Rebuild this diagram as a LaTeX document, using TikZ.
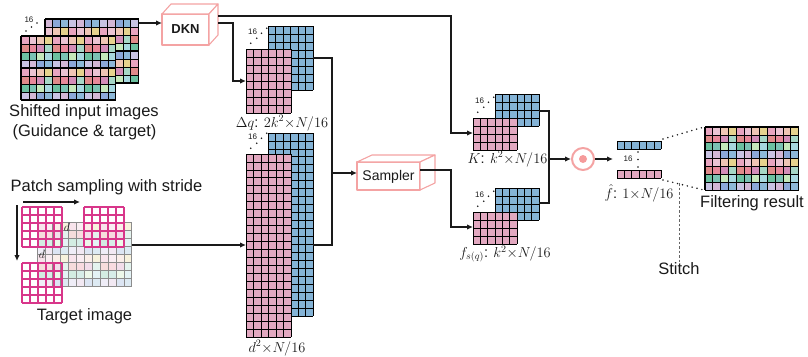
\documentclass[tikz,border=0pt]{standalone}
\usepackage[no-math]{fontspec}
\setmainfont{Liberation Sans}
\usetikzlibrary{arrows.meta}
\definecolor{p00}{HTML}{E8A5C0}\definecolor{p01}{HTML}{EBC4D3}\definecolor{p02}{HTML}{EFC6B5}\definecolor{p03}{HTML}{E6D38E}
\definecolor{p10}{HTML}{E08A8A}\definecolor{p11}{HTML}{E8889A}\definecolor{p12}{HTML}{D38DB8}\definecolor{p13}{HTML}{A6D7C6}
\definecolor{p20}{HTML}{6CC0A0}\definecolor{p21}{HTML}{7BC2B3}\definecolor{p22}{HTML}{C5E8BB}\definecolor{p23}{HTML}{A7D8DF}
\definecolor{p30}{HTML}{C9C3E3}\definecolor{p31}{HTML}{D3B7D6}\definecolor{p32}{HTML}{8CA8D8}\definecolor{p33}{HTML}{8DB8D8}
\definecolor{fpink}{HTML}{E2A8C0}
\definecolor{fblue}{HTML}{84B3D6}
\definecolor{boxred}{HTML}{F4A3A3}
\definecolor{magen}{HTML}{D8368A}
\definecolor{txt}{HTML}{1A1A1A}
\newcommand\patgrid[7]{%
  \foreach \r in {0,...,7}{\foreach \c in {0,...,11}{%
    \pgfmathtruncatemacro\pr{mod(\r+#5,4)}\pgfmathtruncatemacro\pc{mod(\c+#6,4)}%
    \fill[p\pr\pc, opacity=#7] ({#1+\c*#3},{#2+\r*#4}) rectangle ++(#3,#4);}}}
\newcommand\gridlines[7]{%
  \foreach \c in {0,...,#3}{\draw[#7] ({#1+\c*#5},#2) -- ++(0,{#4*#6});}%
  \foreach \r in {0,...,#4}{\draw[#7] (#1,{#2+\r*#6}) -- ++({#3*#5},0);}}
\newcommand\fgrid[7]{%
  \fill[#7] (#1,#2) rectangle ++({#3*#5},{#4*#6});
  \gridlines{#1}{#2}{#3}{#4}{#5}{#6}{gline}}
\newcommand\blockgrid[4]{% x0 y0 cw ch : thick lines every 4 cells
  \foreach \c in {0,4,8,12}{\draw[bline] ({#1+\c*#3},#2) -- ++(0,{8*#4});}%
  \foreach \r in {0,4,8}{\draw[bline] (#1,{#2+\r*#4}) -- ++({12*#3},0);}}
\newcommand\sixteen[2]{% pink top-left corner
  \foreach \d/\e in {4.7/-5.7,10.7/-10.7,15.5/-15.7,20.7/-20.7}{\fill[txt] ({#1+\d},{#2+\e}) circle (0.9);}
  \node[small] at ({#1+6.5},{#2-17.5}) {16};}
\tikzset{
  gline/.style={line width=0.8pt, black},
  bline/.style={line width=1.3pt, black},
  conn/.style={line width=1.2pt, txt},
  arr/.style={conn, -{Latex[length=6pt,width=5.5pt]}},
  lbl/.style={font=\fontsize{16.5}{19}\selectfont, text=txt, inner sep=0pt},
  mlbl/.style={font=\fontsize{14.5}{16}\selectfont, text=txt, inner sep=0pt},
  small/.style={font=\fontsize{8}{9}\selectfont, text=txt, inner sep=0pt},
  box3d/.style={draw=boxred, line width=1.1pt, fill=white, line join=round},
  dotl/.style={line width=1.7pt, txt, dash pattern=on 0pt off 5pt, line cap=round},
}
\begin{document}
\begin{tikzpicture}[x=1pt,y=-1pt]
\useasboundingbox (0,0) rectangle (808,356);

% ---------- shifted input images ----------
\patgrid{45}{19}{7.8}{8}{3}{1}{1}
\gridlines{45}{19}{12}{8}{7.8}{8}{gline}
\blockgrid{45}{19}{7.8}{8}
\patgrid{21}{36}{7.9}{8}{0}{0}{1}
\gridlines{21}{36}{12}{8}{7.9}{8}{gline}
\blockgrid{21}{36}{7.9}{8}
\foreach \d/\e in {26/31,31.5/27,37/23}{\fill[txt] (\d,\e) circle (0.9);}
\node[small] at (29,20) {16};
\coordinate (inR) at (138.6,23);
\node[lbl] (inlab1) at (84,112) {Shifted input images};
\node[lbl] (inlab2) at (84.5,132) {(Guidance \& target)};

% ---------- DKN box ----------
\draw[box3d] (162,14) rectangle (209,45);
\draw[box3d] (162,14) -- (171,4) -- (218,4) -- (209,14) -- cycle;
\draw[box3d] (209,14) -- (218,4) -- (218,35) -- (209,45) -- cycle;
\node[font=\fontsize{13}{15}\selectfont\bfseries, text=txt] (dkn) at (185.5,29.5) {DKN};
\coordinate (dknIn) at (162,23);
\coordinate (dknO1) at (218,16);
\coordinate (dknO2) at (218,23);

% ---------- target image ----------
\patgrid{37}{222}{7.9}{8.1}{0}{0}{0.3}
\gridlines{37}{222}{12}{8}{7.9}{8.1}{line width=0.7pt, black!45}
\gridlines{22}{207}{5}{5}{8}{8}{line width=1.1pt, magen}
\gridlines{84}{207}{5}{5}{8}{8}{line width=1.1pt, magen}
\gridlines{22}{263}{5}{5}{8}{8}{line width=1.1pt, magen}
\node[font=\fontsize{12}{14}\selectfont, text=txt, inner sep=0pt] at (67,227) {$d$};
\node[font=\fontsize{12}{14}\selectfont, text=txt, inner sep=0pt] at (42,254) {$d$};
\coordinate (hs) at (23,202); \coordinate (he) at (80,202);
\coordinate (vs) at (17,205); \coordinate (ve) at (17,261);
\draw[arr] (hs) -- (he);
\draw[arr] (vs) -- (ve);
\node[lbl] (patchlab) at (106.5,187) {Patch sampling with stride};
\node[lbl] (tlab) at (84.5,316) {Target image};
\coordinate (tgtR) at (131.8,245);

% ---------- Delta q ----------
\fgrid{268}{26}{6}{8}{7.5}{8}{fblue}
\fgrid{246}{49}{6}{8}{7.5}{8}{fpink}
\sixteen{246}{49}
\node[mlbl] (dqlab) at (282,123) {$\Delta q$: $2k^2{\times}N/16$};
\coordinate (dqIn) at (246,81);
\coordinate (dqOut) at (313,58);

% ---------- d^2 ----------
\fgrid{268}{133}{6}{23}{7.5}{7.96}{fblue}
\fgrid{246}{154}{6}{23}{7.5}{7.96}{fpink}
\sixteen{246}{154}
\node[mlbl] (d2lab) at (277,348) {$d^2{\times}N/16$};
\coordinate (d2In) at (246,245);
\coordinate (d2Out) at (313,245);

% ---------- Sampler box ----------
\draw[box3d] (357,162) rectangle (420,190);
\draw[box3d] (357,162) -- (372,155) -- (435,155) -- (420,162) -- cycle;
\draw[box3d] (420,162) -- (435,155) -- (435,183) -- (420,190) -- cycle;
\node[font=\fontsize{14}{16}\selectfont, text=txt] (sampler) at (388.5,177) {Sampler};
\coordinate (smpIn) at (357,173);
\coordinate (smpOut) at (420,170);
\coordinate (jn) at (332,173);

% ---------- K ----------
\fgrid{495}{94}{6}{4}{7.33}{8}{fblue}
\fgrid{473}{118}{6}{4}{7.33}{8}{fpink}
\sixteen{473}{118}
\node[mlbl] (klab) at (507.5,159) {$K$: $k^2{\times}N/16$};
\coordinate (kIn) at (473,133);
\coordinate (kOut) at (539,111);

% ---------- f_s(q) ----------
\fgrid{495}{188}{6}{4}{7.33}{8}{fblue}
\fgrid{473}{212}{6}{4}{7.33}{8}{fpink}
\sixteen{473}{212}
\node[mlbl] (fslab) at (505,254) {$f_{s(q)}$: $k^2{\times}N/16$};
\coordinate (fsIn) at (473,227);
\coordinate (fsOut) at (539,203);
\coordinate (jn2) at (549,159);

% ---------- product circle ----------
\node[circle, draw=boxred, line width=2pt, minimum size=22pt, inner sep=0pt] (odot) at (583,159) {};
\fill[boxred!95!red] (odot.center) circle (4);

% ---------- f hat ----------
\fgrid{617}{141}{6}{1}{7.4}{8}{fblue}
\fgrid{617}{170}{6}{1}{7.4}{8}{fpink}
\foreach \e in {152,159.5,167}{\fill[txt] (638,\e) circle (0.9);}
\node[small] at (628,159) {16};
\node[mlbl] (fhlab) at (639,193) {$\hat f$: $1{\times}N/16$};
\coordinate (fhIn) at (613,159);
\coordinate (fbTR) at (663,139);
\coordinate (fpBR) at (663,180);

% ---------- filtering result ----------
\patgrid{705}{127}{7.8}{7.9}{0}{0}{1}
\gridlines{705}{127}{12}{8}{7.8}{7.9}{gline}
\blockgrid{705}{127}{7.8}{7.9}
\coordinate (frTL) at (704,127);
\coordinate (frBL) at (704,190);
\node[lbl] (frlab) at (752,203) {Filtering result};
\coordinate (stTop) at (679,183);
\node[lbl] (stitch) at (679,269) {Stitch};

% ---------- connectors ----------
\draw[arr] (inR) -- (dknIn);
\draw[arr] (dknO1) -- (451,16) |- (kIn);
\draw[arr] (dknO2) -- (233,23) |- (dqIn);
\draw[conn] (dqOut) -- (332,58) -- (332,245) -- (d2Out);
\draw[arr] (jn) -- (smpIn);
\draw[arr] (tgtR) -- (d2In);
\draw[arr] (smpOut) -- (451,170) |- (fsIn);
\draw[conn] (kOut) -- (549,111) -- (549,203) -- (fsOut);
\draw[arr] (jn2) -- (odot.west);
\draw[arr] (odot.east) -- (fhIn);
\draw[dotl] (fbTR) -- (frTL);
\draw[dotl] (fpBR) -- (frBL);
\draw[line width=1pt, black!60, dash pattern=on 2.5pt off 2pt] (stTop) -- (stitch.north);
\end{tikzpicture}
\end{document}
